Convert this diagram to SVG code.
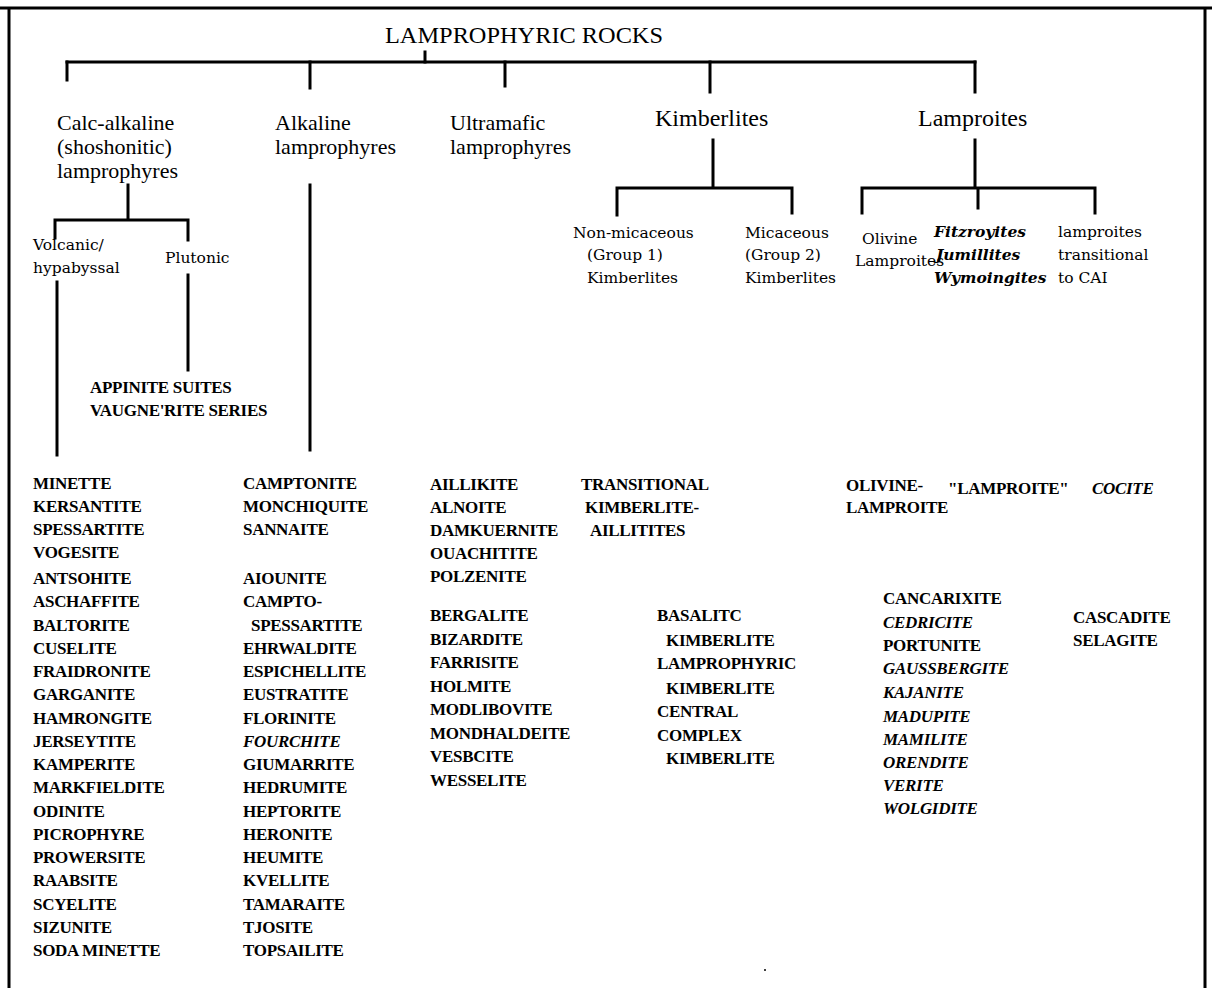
<svg xmlns="http://www.w3.org/2000/svg" width="1212" height="988" viewBox="0 0 1212 988">
  <style>
    text { fill: #000; }
    .title { font-family: "Liberation Serif", serif; font-size: 23px; }
    .hdr { font-family: "Liberation Serif", serif; font-size: 22px; }
    .hdr2 { font-family: "Liberation Serif", serif; font-size: 24px; }
    .sub { font-family: "DejaVu Serif", serif; font-size: 15.5px; }
    .subi { font-family: "DejaVu Serif", serif; font-size: 15.5px; font-style: italic; font-weight: bold; }
    .cap { font-family: "Liberation Serif", serif; font-size: 17px; font-weight: bold; letter-spacing: -0.3px; }
    .capi { font-family: "Liberation Serif", serif; font-size: 17px; font-weight: bold; font-style: italic; }
    .ln { fill: none; stroke: #000; stroke-width: 3; stroke-linecap: square; }
    .frame { fill: none; stroke: #000; stroke-width: 3; }
  </style>

  <rect width="1212" height="988" fill="#fff"/>

  <!-- outer frame (open at the bottom edge) -->
  <path class="frame" d="M0,8 H1212 M9,8 V988 M1205,8 V988"/>

  <!-- connectors -->
  <g id="connectors">
    <path class="ln" d="M425,52 V62"/>
    <path class="ln" d="M67,62 H975"/>
    <path class="ln" d="M67,62 V80 M310,62 V88 M505,62 V86 M710,62 V92 M975,62 V92"/>
    <!-- calc-alkaline split -->
    <path class="ln" d="M128,185 V220 M55,220 H188 M55,220 V238 M188,220 V240"/>
    <path class="ln" d="M57,282 V455"/>
    <path class="ln" d="M188,275 V370"/>
    <!-- alkaline -->
    <path class="ln" d="M310,185 V450"/>
    <!-- kimberlites split -->
    <path class="ln" d="M713,140 V188 M617,188 H792 M617,188 V215 M792,188 V213"/>
    <!-- lamproites split -->
    <path class="ln" d="M975,140 V188 M862,188 H1095 M862,188 V213 M978,188 V208 M1095,188 V213"/>
  </g>

  <g id="root">
    <text class="title" x="385" y="43" textLength="278" lengthAdjust="spacingAndGlyphs">LAMPROPHYRIC ROCKS</text>
  </g>

  <g id="calc-alkaline">
    <text class="hdr" x="57" y="130">Calc-alkaline</text>
    <text class="hdr" x="57" y="154">(shoshonitic)</text>
    <text class="hdr" x="57" y="178">lamprophyres</text>
  </g>
  <g id="alkaline">
    <text class="hdr" x="275" y="130">Alkaline</text>
    <text class="hdr" x="275" y="154">lamprophyres</text>
  </g>
  <g id="ultramafic">
    <text class="hdr" x="450" y="130">Ultramafic</text>
    <text class="hdr" x="450" y="154">lamprophyres</text>
  </g>
  <g id="kimberlites">
    <text class="hdr2" x="655" y="126">Kimberlites</text>
  </g>
  <g id="lamproites">
    <text class="hdr2" x="918" y="126">Lamproites</text>
  </g>

  <g id="volcanic-hypabyssal">
    <text class="sub" x="33" y="250">Volcanic/</text>
    <text class="sub" x="33" y="273">hypabyssal</text>
  </g>
  <g id="plutonic">
    <text class="sub" x="165" y="263">Plutonic</text>
  </g>
  <g id="plutonic-suites">
    <text class="cap" x="90" y="393">APPINITE SUITES</text>
    <text class="cap" x="90" y="416">VAUGNE'RITE SERIES</text>
  </g>

  <g id="non-micaceous">
    <text class="sub" x="573" y="238">Non-micaceous</text>
    <text class="sub" x="587" y="260">(Group 1)</text>
    <text class="sub" x="587" y="283">Kimberlites</text>
  </g>
  <g id="micaceous">
    <text class="sub" x="745" y="238">Micaceous</text>
    <text class="sub" x="745" y="260">(Group 2)</text>
    <text class="sub" x="745" y="283">Kimberlites</text>
  </g>

  <g id="olivine-lamproites">
    <text class="sub" x="862" y="244">Olivine</text>
    <text class="sub" x="855" y="266">Lamproites</text>
  </g>
  <g id="leucite-lamproites">
    <text class="subi" x="934" y="237">Fitzroyites</text>
    <text class="subi" x="936" y="260">Jumillites</text>
    <text class="subi" x="934" y="283">Wymoingites</text>
  </g>
  <g id="transitional-lamproites">
    <text class="sub" x="1058" y="237">lamproites</text>
    <text class="sub" x="1058" y="260">transitional</text>
    <text class="sub" x="1058" y="283">to CAI</text>
  </g>

  <!-- calc-alkaline rock names -->
  <g id="list-calc-alkaline" class="cap">
    <text x="33" y="489">MINETTE</text>
    <text x="33" y="512">KERSANTITE</text>
    <text x="33" y="535">SPESSARTITE</text>
    <text x="33" y="558">VOGESITE</text>
    <text x="33" y="584">ANTSOHITE</text>
    <text x="33" y="607">ASCHAFFITE</text>
    <text x="33" y="630.5">BALTORITE</text>
    <text x="33" y="654">CUSELITE</text>
    <text x="33" y="677">FRAIDRONITE</text>
    <text x="33" y="700">GARGANITE</text>
    <text x="33" y="723.5">HAMRONGITE</text>
    <text x="33" y="747">JERSEYTITE</text>
    <text x="33" y="770">KAMPERITE</text>
    <text x="33" y="793">MARKFIELDITE</text>
    <text x="33" y="816.5">ODINITE</text>
    <text x="33" y="840">PICROPHYRE</text>
    <text x="33" y="863">PROWERSITE</text>
    <text x="33" y="886">RAABSITE</text>
    <text x="33" y="909.5">SCYELITE</text>
    <text x="33" y="933">SIZUNITE</text>
    <text x="33" y="956">SODA MINETTE</text>
  </g>

  <!-- alkaline rock names -->
  <g id="list-alkaline" class="cap">
    <text x="243" y="489">CAMPTONITE</text>
    <text x="243" y="512">MONCHIQUITE</text>
    <text x="243" y="535">SANNAITE</text>
    <text x="243" y="584">AIOUNITE</text>
    <text x="243" y="607">CAMPTO-</text>
    <text x="251" y="630.5">SPESSARTITE</text>
    <text x="243" y="654">EHRWALDITE</text>
    <text x="243" y="677">ESPICHELLITE</text>
    <text x="243" y="700">EUSTRATITE</text>
    <text x="243" y="723.5">FLORINITE</text>
    <text x="243" y="747" class="capi">FOURCHITE</text>
    <text x="243" y="770">GIUMARRITE</text>
    <text x="243" y="793">HEDRUMITE</text>
    <text x="243" y="816.5">HEPTORITE</text>
    <text x="243" y="840">HERONITE</text>
    <text x="243" y="863">HEUMITE</text>
    <text x="243" y="886">KVELLITE</text>
    <text x="243" y="909.5">TAMARAITE</text>
    <text x="243" y="933">TJOSITE</text>
    <text x="243" y="956">TOPSAILITE</text>
  </g>

  <!-- ultramafic rock names -->
  <g id="list-ultramafic" class="cap">
    <text x="430" y="490">AILLIKITE</text>
    <text x="430" y="513">ALNOITE</text>
    <text x="430" y="536">DAMKUERNITE</text>
    <text x="430" y="559">OUACHITITE</text>
    <text x="430" y="582">POLZENITE</text>
    <text x="430" y="621">BERGALITE</text>
    <text x="430" y="645">BIZARDITE</text>
    <text x="430" y="668">FARRISITE</text>
    <text x="430" y="692">HOLMITE</text>
    <text x="430" y="715">MODLIBOVITE</text>
    <text x="430" y="739">MONDHALDEITE</text>
    <text x="430" y="762">VESBCITE</text>
    <text x="430" y="786">WESSELITE</text>
  </g>
  <g id="list-transitional" class="cap">
    <text x="581" y="490">TRANSITIONAL</text>
    <text x="585" y="513">KIMBERLITE-</text>
    <text x="590" y="536">AILLITITES</text>
  </g>

  <!-- kimberlite rock names -->
  <g id="list-kimberlite" class="cap">
    <text x="657" y="621">BASALITC</text>
    <text x="666" y="646">KIMBERLITE</text>
    <text x="657" y="669">LAMPROPHYRIC</text>
    <text x="666" y="694">KIMBERLITE</text>
    <text x="657" y="717">CENTRAL</text>
    <text x="657" y="741">COMPLEX</text>
    <text x="666" y="764">KIMBERLITE</text>
  </g>

  <!-- lamproite rock names -->
  <g id="list-lamproite-top" class="cap">
    <text x="846" y="491">OLIVINE-</text>
    <text x="846" y="513">LAMPROITE</text>
    <text x="948" y="494">"LAMPROITE"</text>
    <text x="1092" y="494" class="capi">COCITE</text>
  </g>
  <g id="list-lamproite" class="cap">
    <text x="883" y="604">CANCARIXITE</text>
    <text x="883" y="628" class="capi">CEDRICITE</text>
    <text x="883" y="651">PORTUNITE</text>
    <text x="883" y="674" class="capi">GAUSSBERGITE</text>
    <text x="883" y="698" class="capi">KAJANITE</text>
    <text x="883" y="722" class="capi">MADUPITE</text>
    <text x="883" y="745" class="capi">MAMILITE</text>
    <text x="883" y="768" class="capi">ORENDITE</text>
    <text x="883" y="791" class="capi">VERITE</text>
    <text x="883" y="814" class="capi">WOLGIDITE</text>
  </g>
  <g id="list-lamproite-cal" class="cap">
    <text x="1073" y="623">CASCADITE</text>
    <text x="1073" y="646">SELAGITE</text>
  </g>

  <circle cx="765" cy="970" r="1" fill="#000"/>
</svg>
